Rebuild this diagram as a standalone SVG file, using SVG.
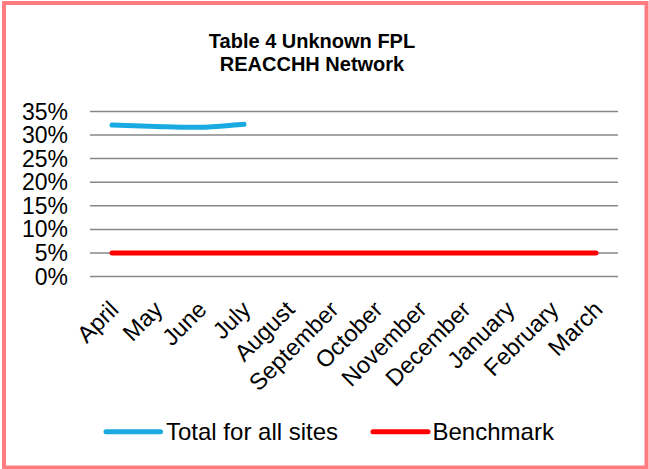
<svg xmlns="http://www.w3.org/2000/svg" width="649" height="469" viewBox="0 0 649 469">
  <style>
    .grid { stroke: #878787; stroke-width: 1.5; }
    .ylab { font-family: "Liberation Sans", Arial, sans-serif; font-size: 23px; fill: #000; text-anchor: end; }
    .xlab { font-family: "Liberation Sans", Arial, sans-serif; font-size: 23.5px; fill: #000; text-anchor: end; }
    .title { font-family: "Liberation Sans", Arial, sans-serif; font-size: 20px; font-weight: bold; fill: #000; text-anchor: middle; }
    .leg { font-family: "Liberation Sans", Arial, sans-serif; font-size: 24px; fill: #000; }
    .total { fill: none; stroke: #1AAAE2; stroke-width: 5; stroke-linecap: round; stroke-linejoin: round; }
    .bench { fill: none; stroke: #FF0000; stroke-width: 5; stroke-linecap: round; }
  </style>

  <!-- chart area -->
  <rect x="0" y="0" width="649" height="469" fill="#FFFFFF"/>
  <rect id="frame" x="4" y="3" width="642.5" height="464.5" fill="#FFFFFF" stroke="#FF7C80" stroke-width="4"/>

  <!-- title -->
  <g id="title">
    <text class="title" x="312" y="48.3">Table 4 Unknown FPL</text>
    <text class="title" x="312" y="71">REACCHH Network</text>
  </g>

  <!-- horizontal gridlines, 0% to 35% -->
  <g id="gridlines">
    <line class="grid" x1="90" y1="276.5" x2="618" y2="276.5"/>
    <line class="grid" x1="90" y1="252.9" x2="618" y2="252.9"/>
    <line class="grid" x1="90" y1="229.4" x2="618" y2="229.4"/>
    <line class="grid" x1="90" y1="205.8" x2="618" y2="205.8"/>
    <line class="grid" x1="90" y1="182.2" x2="618" y2="182.2"/>
    <line class="grid" x1="90" y1="158.6" x2="618" y2="158.6"/>
    <line class="grid" x1="90" y1="135.1" x2="618" y2="135.1"/>
    <line class="grid" x1="90" y1="111.5" x2="618" y2="111.5"/>
  </g>

  <!-- value axis labels -->
  <g id="y-axis">
    <text class="ylab" x="68" y="284.5">0%</text>
    <text class="ylab" x="68" y="260.9">5%</text>
    <text class="ylab" x="68" y="237.4">10%</text>
    <text class="ylab" x="68" y="213.8">15%</text>
    <text class="ylab" x="68" y="190.2">20%</text>
    <text class="ylab" x="68" y="166.6">25%</text>
    <text class="ylab" x="68" y="143.1">30%</text>
    <text class="ylab" x="68" y="119.5">35%</text>
  </g>

  <!-- category axis labels, rotated -45 -->
  <g id="x-axis">
    <text class="xlab" transform="translate(120,311) rotate(-45)">April</text>
    <text class="xlab" transform="translate(164,311) rotate(-45)">May</text>
    <text class="xlab" transform="translate(208,311) rotate(-45)">June</text>
    <text class="xlab" transform="translate(252,311) rotate(-45)">July</text>
    <text class="xlab" transform="translate(296,311) rotate(-45)">August</text>
    <text class="xlab" transform="translate(340,311) rotate(-45)">September</text>
    <text class="xlab" transform="translate(384,311) rotate(-45)">October</text>
    <text class="xlab" transform="translate(428,311) rotate(-45)">November</text>
    <text class="xlab" transform="translate(472,311) rotate(-45)">December</text>
    <text class="xlab" transform="translate(516,311) rotate(-45)">January</text>
    <text class="xlab" transform="translate(560,311) rotate(-45)">February</text>
    <text class="xlab" transform="translate(604,311) rotate(-45)">March</text>
  </g>

  <!-- data series -->
  <g id="series">
    <path id="series-benchmark" class="bench" d="M112,252.9 L596,252.9"/>
    <path id="series-total" class="total" d="M112,125 C126.7,125.5 141.3,126.1 156,126.5 C170.7,126.9 185.3,127.6 200,127.3 C214.7,127 229.3,125.3 244,124.3"/>
  </g>

  <!-- legend -->
  <g id="legend">
    <g id="legend-total">
      <line class="total" x1="106" y1="431.7" x2="160.5" y2="431.7"/>
      <text class="leg" x="166" y="440">Total for all sites</text>
    </g>
    <g id="legend-benchmark">
      <line class="bench" x1="373" y1="431.7" x2="428" y2="431.7"/>
      <text class="leg" x="432.5" y="440">Benchmark</text>
    </g>
  </g>
</svg>
